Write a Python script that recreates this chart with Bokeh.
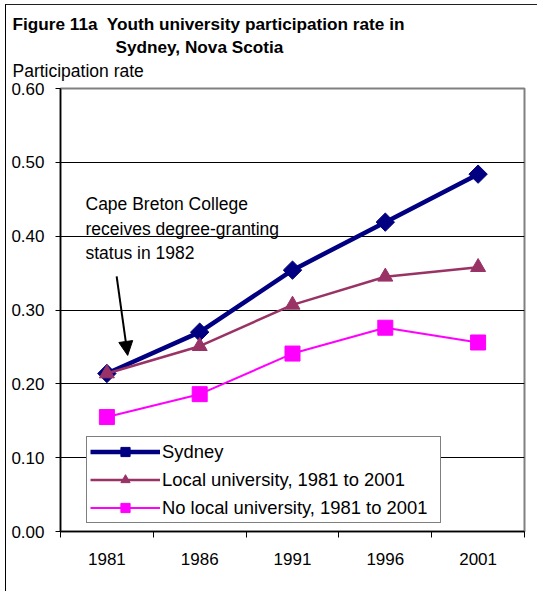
import numpy as np
from bokeh.plotting import figure
from bokeh.models import (Range1d, FixedTicker, Label, Arrow, NormalHead, Legend, LegendItem,
                          NumeralTickFormatter, Title)
from bokeh.embed import file_html
from bokeh.resources import INLINE

years = ["1981", "1986", "1991", "1996", "2001"]
sydney = [0.214, 0.270, 0.354, 0.419, 0.484]
local_univ = [0.214, 0.251, 0.307, 0.345, 0.358]
no_local_univ = [0.155, 0.186, 0.241, 0.276, 0.256]
y_ticks = [0.0, 0.1, 0.2, 0.3, 0.4, 0.5, 0.6]

FONT = "Liberation Sans"
xs = list(range(len(years)))

# canvas starts at (6, 5) because of the outer border drawn with CSS
p = figure(width=532, height=587, x_range=Range1d(-0.5, len(years) - 0.5), y_range=Range1d(0, 0.6),
           output_backend="svg", toolbar_location=None,
           min_border_left=54, min_border_right=14, min_border_top=83, min_border_bottom=61)
p.styles = {"margin-left": "5px", "margin-top": "4px",
            "border-left": "1px solid black", "border-top": "1px solid #202020"}
p.background_fill_color = "white"
p.border_fill_color = "white"
p.outline_line_color = "#808080"
p.outline_line_width = 2

# titles (added bottom-up: later ones sit further from the plot)
p.add_layout(Title(text="Participation rate", align="left", offset=-48, standoff=16,
                   text_font=FONT, text_font_size="17.5px", text_font_style="normal",
                   text_color="black"), "above")
p.add_layout(Title(text="Sydney, Nova Scotia", align="left", offset=55, standoff=-13,
                   text_font=FONT, text_font_size="17.2px", text_font_style="bold",
                   text_color="black"), "above")
p.add_layout(Title(text="Figure 11a\u00a0 Youth university participation rate in", align="left",
                   offset=-48, standoff=12, vertical_align="top", text_font=FONT,
                   text_font_size="17.2px", text_font_style="bold", text_color="black"), "above")

# axes
p.yaxis.ticker = FixedTicker(ticks=y_ticks)
p.yaxis.formatter = NumeralTickFormatter(format="0.00")
p.yaxis.major_tick_out = 5
p.yaxis.major_tick_in = 0
p.yaxis.minor_tick_out = 0
p.yaxis.minor_tick_in = 0
p.yaxis.axis_line_color = "black"
p.yaxis.axis_line_width = 1.5
p.yaxis.major_label_text_font = FONT
p.yaxis.major_label_text_font_size = "17px"
p.yaxis.major_label_text_color = "black"
p.yaxis.major_label_standoff = 11

bounds = [i - 0.5 for i in range(len(years) + 1)]
p.xaxis.ticker = FixedTicker(ticks=xs, minor_ticks=bounds)
p.xaxis.major_label_overrides = {i: y for i, y in enumerate(years)}
p.xaxis.major_tick_out = 0
p.xaxis.major_tick_in = 0
p.xaxis.minor_tick_out = 6
p.xaxis.minor_tick_in = 0
p.xaxis.minor_tick_line_color = "black"
p.xaxis.axis_line_color = "black"
p.xaxis.axis_line_width = 1.5
p.xaxis.major_label_text_font = FONT
p.xaxis.major_label_text_font_size = "17px"
p.xaxis.major_label_text_color = "black"
p.xaxis.major_label_standoff = 15

p.xgrid.grid_line_color = None
p.ygrid.ticker = FixedTicker(ticks=y_ticks)
p.ygrid.grid_line_color = "black"
p.ygrid.grid_line_width = 1

# series
navy = "#000080"
plum = "#993366"
magenta = "#FF00FF"
l1 = p.line(xs, sydney, line_color=navy, line_width=4.5)
m1 = p.scatter(xs, sydney, marker="square", angle=np.pi / 4, size=13, fill_color=navy, line_color=navy)
l2 = p.line(xs, local_univ, line_color=plum, line_width=2.5)
m2 = p.scatter(xs, local_univ, marker="triangle", size=15, fill_color=plum, line_color=plum)
l3 = p.line(xs, no_local_univ, line_color=magenta, line_width=2)
m3 = p.scatter(xs, no_local_univ, marker="square", size=15, fill_color=magenta, line_color=magenta)

legend = Legend(items=[
    LegendItem(label="Sydney", renderers=[l1, m1]),
    LegendItem(label="Local university, 1981 to 2001", renderers=[l2, m2]),
    LegendItem(label="No local university, 1981 to 2001", renderers=[l3, m3]),
], location=(26, 8))
legend.border_line_color = "black"
legend.border_line_width = 1
legend.background_fill_color = "white"
legend.background_fill_alpha = 1
legend.padding = 3
legend.margin = 0
legend.spacing = 5
legend.glyph_width = 70
legend.glyph_height = 23
legend.label_height = 23
legend.label_width = 275
legend.label_standoff = 2
legend.label_text_font = FONT
legend.label_text_font_size = "18.4px"
legend.label_text_color = "black"
p.add_layout(legend, "center")

# annotation text (screen units relative to the frame, frame left at x=60, bottom at y=531)
def lab(text, rx, ry, size="17.5px", style="normal"):
    p.add_layout(Label(x=rx - 60, y=531 - ry, x_units="screen", y_units="screen", text=text,
                       text_font=FONT, text_font_size=size, text_font_style=style,
                       text_baseline="middle", text_align="left", text_color="black"))

lab("Cape Breton College", 85, 203)
lab("receives degree-granting", 85, 228)
lab("status in 1982", 85, 252)

p.add_layout(Arrow(end=NormalHead(size=14, fill_color="black", line_color="black"),
                   x_start=0.105, y_start=0.3455, x_end=0.224, y_end=0.2385,
                   line_color="black", line_width=2))

open("out.html", "w").write(file_html(p, INLINE))
